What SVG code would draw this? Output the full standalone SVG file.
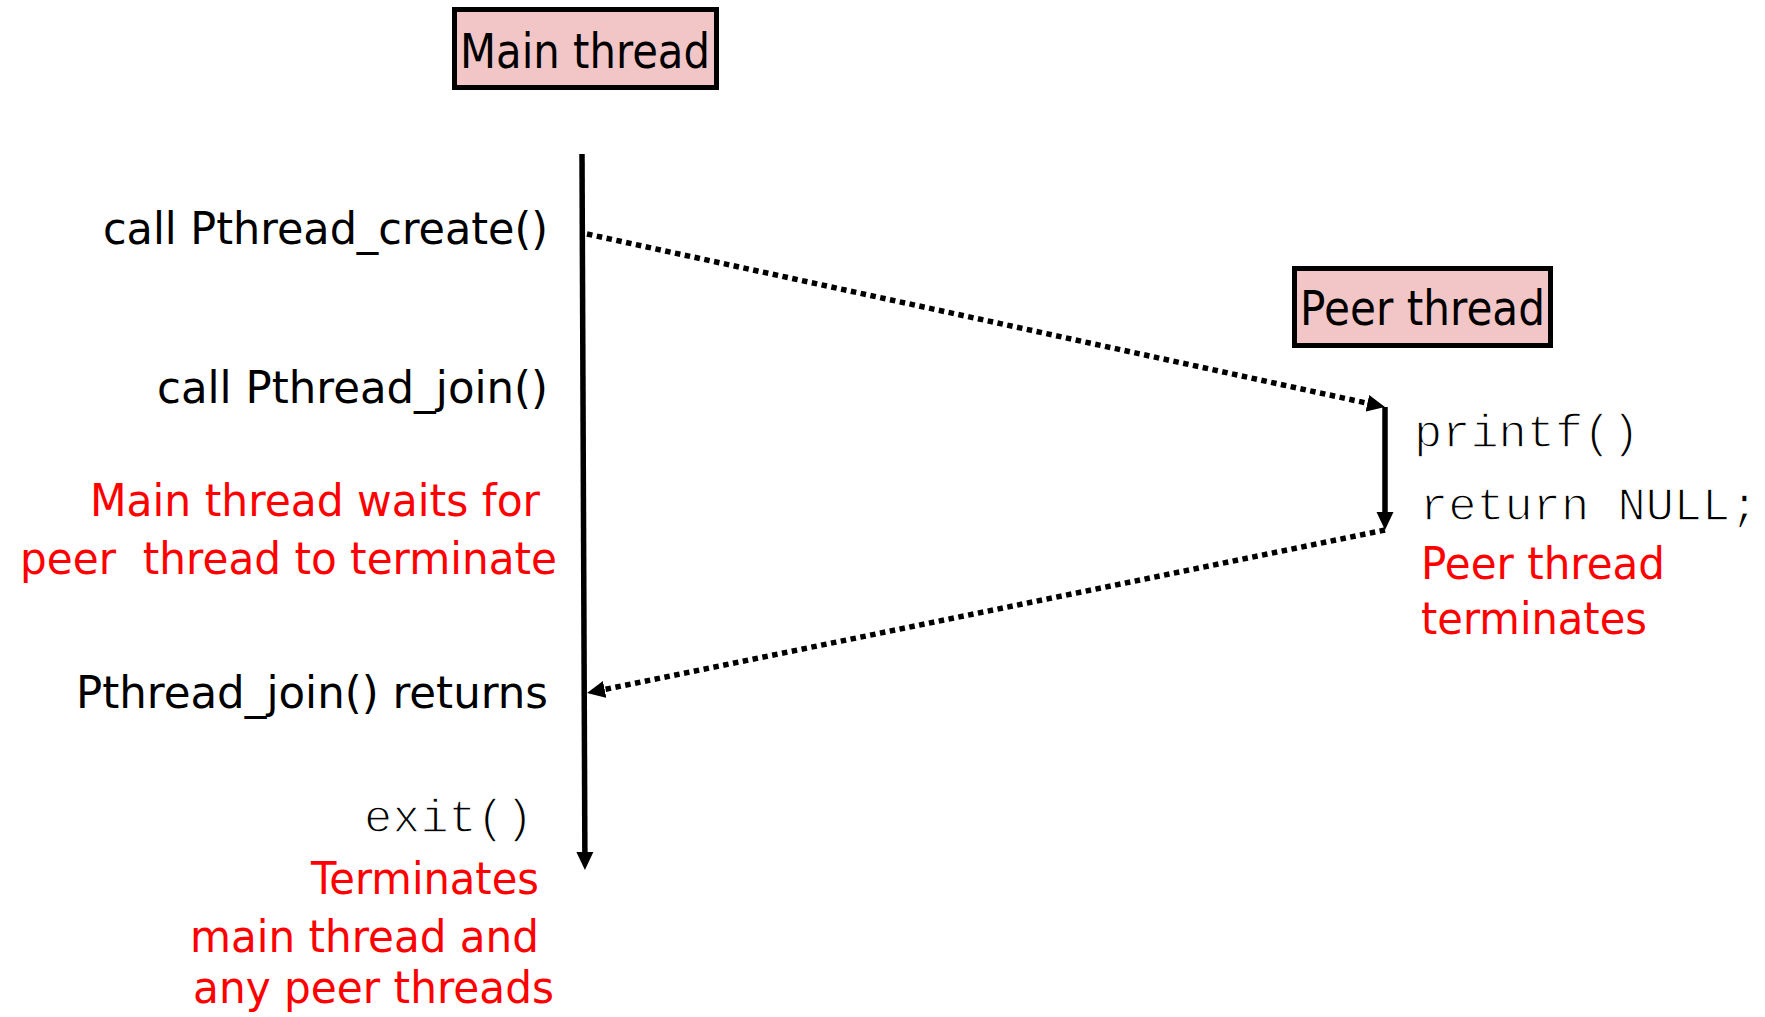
<svg xmlns="http://www.w3.org/2000/svg" width="1765" height="1017" viewBox="0 0 1765 1017">
<style>
.box{fill:#F2C6C6;stroke:#000;stroke-width:5}
.title{font-family:"DejaVu Sans","Liberation Sans",sans-serif;font-size:48px;fill:#000}
.lbl{font-family:"DejaVu Sans","Liberation Sans",sans-serif;font-size:44px;fill:#000;white-space:pre}
.red{fill:#FF0000}
.mono{font-family:"Liberation Mono","DejaVu Sans Mono",monospace;font-size:47px;fill:#000;stroke:#fff;stroke-width:1.3}
.solid{stroke:#000;stroke-width:5.5;fill:none}
.dot{stroke:#000;stroke-width:5.5;fill:none;stroke-dasharray:5.5 4.5}
</style>
<defs>
<marker id="ah" markerUnits="userSpaceOnUse" markerWidth="19" markerHeight="18" refX="7" refY="9" orient="auto" viewBox="0 0 19 18">
<path d="M0,0.5 L18,9 L0,17.5 Z" fill="#000"/>
</marker>
</defs>
<rect width="1765" height="1017" fill="#fff"/>
<g id="connectors">
<line class="solid" x1="582" y1="154" x2="584.9" y2="859" marker-end="url(#ah)"/>
<line class="solid" x1="1385" y1="407" x2="1385" y2="519" marker-end="url(#ah)"/>
<line class="dot" x1="587" y1="234" x2="1374.2" y2="404.7" marker-end="url(#ah)"/>
<line class="dot" x1="1385" y1="530" x2="597.8" y2="690.8" marker-end="url(#ah)"/>
</g>
<g id="main-thread">
<rect class="box" x="454.5" y="9.5" width="262" height="78"/>
<text class="title" x="460" y="68" textLength="250" lengthAdjust="spacingAndGlyphs">Main thread</text>
</g>
<g id="peer-thread">
<rect class="box" x="1294.5" y="268.5" width="256" height="77"/>
<text class="title" x="1300" y="325" textLength="245" lengthAdjust="spacingAndGlyphs">Peer thread</text>
</g>
<g id="main-labels">
<text class="lbl" x="103" y="244" textLength="445" lengthAdjust="spacingAndGlyphs">call Pthread_create()</text>
<text class="lbl" x="157" y="403" textLength="391" lengthAdjust="spacingAndGlyphs">call Pthread_join()</text>
<text class="lbl red" x="90" y="516" textLength="450" lengthAdjust="spacingAndGlyphs">Main thread waits for</text>
<text class="lbl red" x="20" y="574" textLength="537" lengthAdjust="spacingAndGlyphs">peer  thread to terminate</text>
<text class="lbl" x="76" y="708" textLength="472" lengthAdjust="spacingAndGlyphs">Pthread_join() returns</text>
<text class="mono" x="364" y="832">exit()</text>
<text class="lbl red" x="311" y="894" textLength="228" lengthAdjust="spacingAndGlyphs">Terminates</text>
<text class="lbl red" x="190" y="952" textLength="349" lengthAdjust="spacingAndGlyphs">main thread and</text>
<text class="lbl red" x="193" y="1003" textLength="361" lengthAdjust="spacingAndGlyphs">any peer threads</text>
</g>
<g id="peer-labels">
<text class="mono" x="1414" y="447">printf()</text>
<text class="mono" x="1420" y="520">return NULL;</text>
<text class="lbl red" x="1421" y="579" textLength="244" lengthAdjust="spacingAndGlyphs">Peer thread</text>
<text class="lbl red" x="1421" y="634" textLength="226" lengthAdjust="spacingAndGlyphs">terminates</text>
</g>
</svg>
